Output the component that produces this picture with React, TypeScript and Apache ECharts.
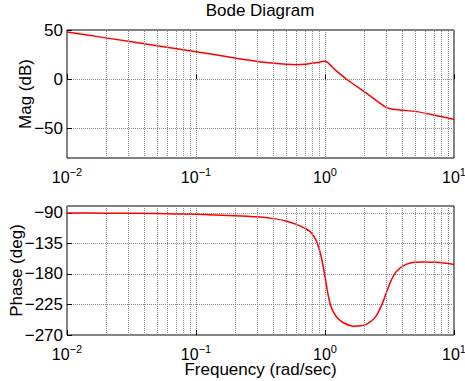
import React, { useEffect, useRef } from "react";
import * as echarts from "echarts";

const freqMag = [0.01, 0.02, 0.05, 0.1, 0.2, 0.3, 0.4, 0.5, 0.6, 0.7, 0.8, 0.9, 1.0, 1.2, 1.47, 2.1, 3.0, 3.4, 3.81, 5.14, 6.92, 10];
const magDb = [48, 42, 34, 28, 21.5, 18, 16.2, 15.2, 14.8, 15.2, 16.2, 17.3, 18.5, 9.5, 0, -14.3, -28.9, -30.5, -31.2, -32.9, -36.3, -40.7];

const freqPh = [0.01, 0.02, 0.05, 0.1, 0.2, 0.3, 0.4, 0.5, 0.6, 0.7, 0.77, 0.85, 0.9, 0.95, 1.0, 1.05, 1.1, 1.16, 1.25, 1.39, 1.67, 1.9, 2.1, 2.3, 2.51, 2.75, 3.0, 3.25, 3.56, 4.24, 5.42, 7.2, 10];
const phaseDeg = [-90.2, -90.5, -91.2, -92.3, -94.2, -96, -98.6, -102, -107, -113, -118, -130, -143, -161, -184, -208, -225, -236, -245, -252, -257, -256.5, -254, -249, -241, -226, -207, -190, -177, -166, -162.5, -163, -166];

const magTicks = [-50, 0, 50];
const phaseTicks = [-270, -225, -180, -135, -90];
const minorFreqs: number[] = [];
[0.01, 0.1, 1].forEach((d) => {
  for (let k = 2; k <= 9; k++) minorFreqs.push(+(d * k).toPrecision(3));
});

const FONT = "'Liberation Sans', Arial, Helvetica, sans-serif";
const FS = 17;
const GRID_COLOR = "#8c8c8c";
const fmtNum = (v: number) => (v < 0 ? "\u2212" + Math.abs(v) : String(v));

export default function App() {
  const ref = useRef<HTMLDivElement>(null);
  useEffect(() => {
    if (!ref.current) return;
    const chart = echarts.init(ref.current, null, { renderer: "svg" });
    const xAxisBase = (gridIndex: number, withName: boolean) => ({
      type: "log",
      logBase: 10,
      gridIndex,
      min: 0.01,
      max: 10,
      axisLine: { show: false },
      axisTick: { show: true, inside: true, length: 5, lineStyle: { color: "#000" } },
      splitLine: { show: true, lineStyle: { type: "dotted", color: GRID_COLOR, width: 1 } },
      axisLabel: {
        margin: 8,
        color: "#000",
        fontFamily: FONT,
        formatter: (v: number) => {
          const e = Math.round(Math.log10(v));
          return `{b|10}{s|${e < 0 ? "\u2212" + Math.abs(e) : e}}`;
        },
        rich: {
          b: { fontSize: 16, fontFamily: FONT, color: "#000" },
          s: { fontSize: 11, fontFamily: FONT, color: "#000", padding: [0, 0, 12, 0] },
        },
      },
      name: withName ? "Frequency (rad/sec)" : "",
      nameLocation: "middle",
      nameGap: 26,
      nameMoveOverlap: false,
      nameTextStyle: { fontSize: FS, fontFamily: FONT, color: "#000" },
    });
    const markLines = {
      silent: true,
      symbol: "none",
      label: { show: false },
      lineStyle: { type: "dotted", color: GRID_COLOR, width: 1 },
      data: minorFreqs.map((f) => ({ xAxis: f })),
    };
    chart.setOption({
      animation: false,
      graphic: [
        {
          type: "text",
          x: 260,
          y: 10,
          style: {
            text: "Bode Diagram",
            fontSize: FS,
            fontFamily: FONT,
            fill: "#000",
            align: "center",
            verticalAlign: "middle",
            textAlign: "center",
            textVerticalAlign: "middle",
          },
        },
      ],
      grid: [
        { left: 67, top: 30, width: 387, height: 128, show: true, borderColor: "#000", borderWidth: 1, backgroundColor: "#fff", outerBoundsMode: "none", containLabel: false },
        { left: 67, top: 206, width: 387, height: 129, show: true, borderColor: "#000", borderWidth: 1, backgroundColor: "#fff", outerBoundsMode: "none", containLabel: false },
      ],
      xAxis: [xAxisBase(0, false), xAxisBase(1, true)],
      yAxis: [
        {
          type: "value",
          gridIndex: 0,
          min: -80,
          max: 50,
          axisLine: { show: false },
          axisTick: { show: true, inside: true, length: 5, customValues: magTicks, lineStyle: { color: "#000" } },
          axisLabel: { customValues: magTicks, formatter: fmtNum, fontSize: FS, fontFamily: FONT, color: "#000", margin: 4 },
          splitLine: { show: true, lineStyle: { type: "dotted", color: GRID_COLOR, width: 1 } },
          name: "Mag (dB)",
          nameLocation: "middle",
          nameGap: 33,
          nameMoveOverlap: false,
          nameTextStyle: { fontSize: FS, fontFamily: FONT, color: "#000" },
        },
        {
          type: "value",
          gridIndex: 1,
          min: -270,
          max: -80,
          interval: 45,
          axisLine: { show: false },
          axisTick: { show: true, inside: true, length: 5, customValues: phaseTicks, lineStyle: { color: "#000" } },
          axisLabel: { customValues: phaseTicks, formatter: fmtNum, fontSize: FS, fontFamily: FONT, color: "#000", margin: 4 },
          splitLine: { show: true, lineStyle: { type: "dotted", color: GRID_COLOR, width: 1 } },
          name: "Phase (deg)",
          nameLocation: "middle",
          nameGap: 42,
          nameMoveOverlap: false,
          nameTextStyle: { fontSize: FS, fontFamily: FONT, color: "#000" },
        },
      ],
      series: [
        {
          type: "line",
          xAxisIndex: 0,
          yAxisIndex: 0,
          data: freqMag.map((f, i) => [f, magDb[i]]),
          showSymbol: false,
          smooth: 0.2,
          lineStyle: { color: "#ff0000", width: 1.5 },
          markLine: markLines,
        },
        {
          type: "line",
          xAxisIndex: 1,
          yAxisIndex: 1,
          data: freqPh.map((f, i) => [f, phaseDeg[i]]),
          showSymbol: false,
          smooth: 0.35,
          lineStyle: { color: "#ff0000", width: 1.5 },
          markLine: markLines,
        },
      ],
    });
    return () => chart.dispose();
  }, []);
  return <div ref={ref} style={{ position: "absolute", left: 0, top: 0, width: 465, height: 381 }} />;
}
